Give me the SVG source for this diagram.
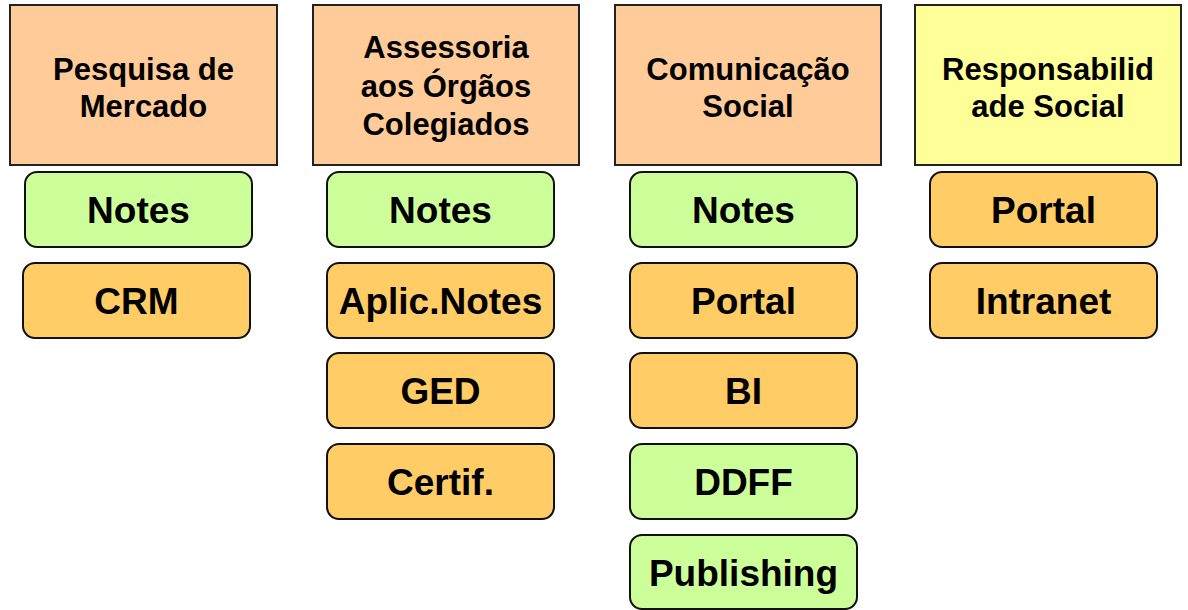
<svg xmlns="http://www.w3.org/2000/svg" width="1188" height="610" viewBox="0 0 1188 610">
<style>
.h rect{stroke:#222;stroke-width:2}
.b rect{stroke:#111;stroke-width:2}
.peach{fill:#FFCC99}
.yel{fill:#FFFF99}
.grn{fill:#CCFF99}
.org{fill:#FFCC66}
text{font-family:"Liberation Sans",Arial,sans-serif;font-weight:bold;fill:#000;text-anchor:middle}
.ht{font-size:31px}
.bt{font-size:37px}
</style>
<rect width="1188" height="610" fill="#fff"/>
<g id="connectors"/>
<g id="h1" class="h"><rect class="peach" x="10" y="5" width="267" height="160"/><text class="ht" x="143.5" y="80">Pesquisa de</text><text class="ht" x="143.5" y="117">Mercado</text></g>
<g id="h2" class="h"><rect class="peach" x="313" y="5" width="266" height="160"/><text class="ht" x="446" y="58">Assessoria</text><text class="ht" x="446" y="97">aos Órgãos</text><text class="ht" x="446" y="135">Colegiados</text></g>
<g id="h3" class="h"><rect class="peach" x="615" y="5" width="266" height="160"/><text class="ht" x="748" y="80">Comunicação</text><text class="ht" x="748" y="117">Social</text></g>
<g id="h4" class="h"><rect class="yel" x="915" y="5" width="266" height="160"/><text class="ht" x="1048" y="80">Responsabilid</text><text class="ht" x="1048" y="117">ade Social</text></g>

<g id="c1n" class="b"><rect class="grn" x="25" y="172" width="227" height="75" rx="12"/><text class="bt" x="138.5" y="223">Notes</text></g>
<g id="c1c" class="b"><rect class="org" x="23" y="263" width="227" height="75" rx="12"/><text class="bt" x="136.5" y="314">CRM</text></g>

<g id="c2n" class="b"><rect class="grn" x="327" y="172" width="227" height="75" rx="12"/><text class="bt" x="440.5" y="223">Notes</text></g>
<g id="c2a" class="b"><rect class="org" x="327" y="263" width="227" height="75" rx="12"/><text class="bt" x="440.5" y="314">Aplic.Notes</text></g>
<g id="c2g" class="b"><rect class="org" x="327" y="353" width="227" height="75" rx="12"/><text class="bt" x="440.5" y="404">GED</text></g>
<g id="c2c" class="b"><rect class="org" x="327" y="444" width="227" height="75" rx="12"/><text class="bt" x="440.5" y="495">Certif.</text></g>

<g id="c3n" class="b"><rect class="grn" x="630" y="172" width="227" height="75" rx="12"/><text class="bt" x="743.5" y="223">Notes</text></g>
<g id="c3p" class="b"><rect class="org" x="630" y="263" width="227" height="75" rx="12"/><text class="bt" x="743.5" y="314">Portal</text></g>
<g id="c3b" class="b"><rect class="org" x="630" y="353" width="227" height="75" rx="12"/><text class="bt" x="743.5" y="404">BI</text></g>
<g id="c3d" class="b"><rect class="grn" x="630" y="444" width="227" height="75" rx="12"/><text class="bt" x="743.5" y="495">DDFF</text></g>
<g id="c3u" class="b"><rect class="grn" x="630" y="535" width="227" height="74" rx="12"/><text class="bt" x="743.5" y="586">Publishing</text></g>

<g id="c4p" class="b"><rect class="org" x="930" y="172" width="227" height="75" rx="12"/><text class="bt" x="1043.5" y="223">Portal</text></g>
<g id="c4i" class="b"><rect class="org" x="930" y="263" width="227" height="75" rx="12"/><text class="bt" x="1043.5" y="314">Intranet</text></g>
</svg>
